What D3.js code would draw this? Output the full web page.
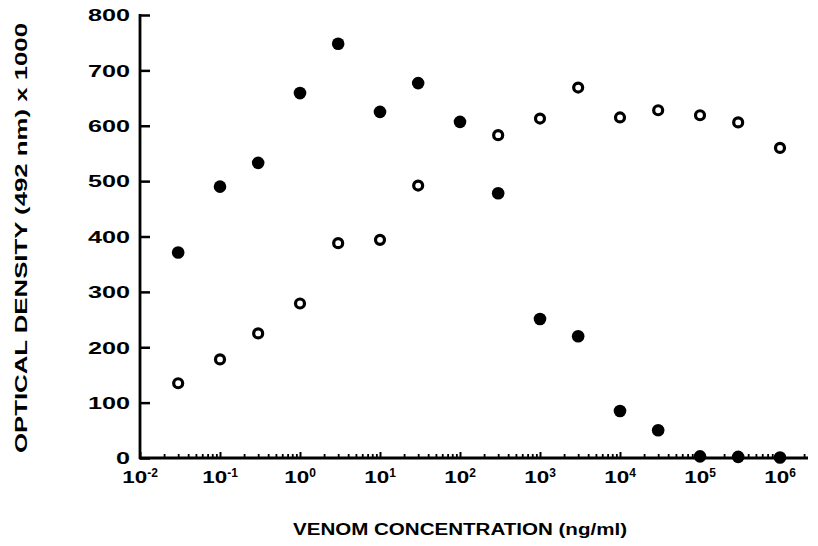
<!DOCTYPE html>
<html><head><meta charset="utf-8">
<script src="https://cdn.jsdelivr.net/npm/d3@7"></script>
<style>
html,body{margin:0;padding:0;background:#fff;}
text{font-family:"Liberation Sans",Arial,sans-serif;font-weight:bold;fill:#000;}
</style>
</head><body>
<svg id="chart" width="818" height="546"></svg>
<script>
// ---- data ----
const concFilled = [0.03, 0.1, 0.3, 1, 3, 10, 30, 100, 300, 1000, 3000, 1e4, 3e4, 1e5, 3e5, 1e6];
const odFilled   = [371, 490, 533, 659, 748, 625, 677, 607, 478, 251, 220, 85, 50, 3, 2, 1];
const concOpen   = [0.03, 0.1, 0.3, 1, 3, 10, 30, 300, 1000, 3000, 1e4, 3e4, 1e5, 3e5, 1e6];
const odOpen     = [135, 178, 225, 279, 388, 394, 492, 583, 613, 669, 615, 628, 619, 606, 560];
const yTicks     = [0, 100, 200, 300, 400, 500, 600, 700, 800];
const xDecades   = [-2, -1, 0, 1, 2, 3, 4, 5, 6];
const xTitle = "VENOM CONCENTRATION (ng/ml)";
const yTitle = "OPTICAL DENSITY (492 nm) x 1000";

// ---- layout ----
const svg = d3.select("#chart");
const x = d3.scaleLog().domain([0.01, 1e6]).range([140, 780]);
const xEnd = 808;
const y = d3.scaleLinear().domain([0, 800]).range([458, 15]);

// y axis
const yAxis = d3.axisLeft(y).tickValues(yTicks).tickSizeInner(-10).tickSizeOuter(0).tickPadding(10);
const gy = svg.append("g").attr("transform", "translate(140,0)").call(yAxis);
gy.select(".domain").remove();
gy.selectAll(".tick line").attr("stroke", "#000").attr("stroke-width", 2.5);
gy.selectAll(".tick text")
  .attr("font-size", 16).attr("font-family", "'Liberation Sans',Arial,sans-serif").attr("font-weight", "bold")
  .attr("dy", "0.36em")
  .each(function(d){
    const s = String(d);
    d3.select(this).attr("textLength", s.length * 14).attr("lengthAdjust", "spacingAndGlyphs");
  });
svg.append("line").attr("x1", 140).attr("x2", 140).attr("y1", y(800) - 1).attr("y2", y(0) + 1)
  .attr("stroke", "#000").attr("stroke-width", 2.8);

// x axis: minor ticks
const minorVals = [];
xDecades.forEach(e => { for (let m = 2; m <= 9; m++) { const v = m * Math.pow(10, e); if (x(v) <= xEnd) minorVals.push(v); } });
const gxMinor = svg.append("g").attr("transform", `translate(0,${y(0)})`)
  .call(d3.axisBottom(x).tickValues(minorVals).tickSizeInner(-4).tickSizeOuter(0).tickFormat(""));
gxMinor.select(".domain").remove();
gxMinor.selectAll(".tick line").attr("stroke", "#000").attr("stroke-width", 1.8);
const majorVals = xDecades.map(e => Math.pow(10, e));
const gxMajor = svg.append("g").attr("transform", `translate(0,${y(0)})`)
  .call(d3.axisBottom(x).tickValues(majorVals).tickSizeInner(-6).tickSizeOuter(0).tickFormat(""));
gxMajor.select(".domain").remove();
gxMajor.selectAll(".tick line").attr("stroke", "#000").attr("stroke-width", 2);
svg.append("line").attr("x1", 139).attr("x2", xEnd).attr("y1", y(0)).attr("y2", y(0))
  .attr("stroke", "#000").attr("stroke-width", 2.8);

// x tick labels 10^n
const lab = svg.append("g");
xDecades.forEach(e => {
  const t = lab.append("text").attr("x", x(Math.pow(10, e))).attr("y", 483)
    .attr("text-anchor", "middle").attr("font-size", 17);
  t.append("tspan").text("10").attr("textLength", 25).attr("lengthAdjust", "spacingAndGlyphs");
  t.append("tspan").text(String(e)).attr("font-size", 12).attr("dy", -6);
});

// titles
svg.append("text").attr("x", 460).attr("y", 535).attr("text-anchor", "middle")
  .attr("font-size", 16).attr("textLength", 334).attr("lengthAdjust", "spacingAndGlyphs").text(xTitle);
svg.append("text").attr("transform", "translate(27,238) rotate(-90)").attr("text-anchor", "middle")
  .attr("font-size", 17).attr("textLength", 430).attr("lengthAdjust", "spacingAndGlyphs").text(yTitle);

// points
svg.append("g").selectAll("circle").data(concOpen.map((c, i) => [c, odOpen[i]])).join("circle")
  .attr("cx", d => x(d[0])).attr("cy", d => y(d[1])).attr("r", 4.5)
  .attr("fill", "#fff").attr("stroke", "#000").attr("stroke-width", 3.2);
svg.append("g").selectAll("circle").data(concFilled.map((c, i) => [c, odFilled[i]])).join("circle")
  .attr("cx", d => x(d[0])).attr("cy", d => y(d[1])).attr("r", 6.3).attr("fill", "#000");
</script>
</body></html>
